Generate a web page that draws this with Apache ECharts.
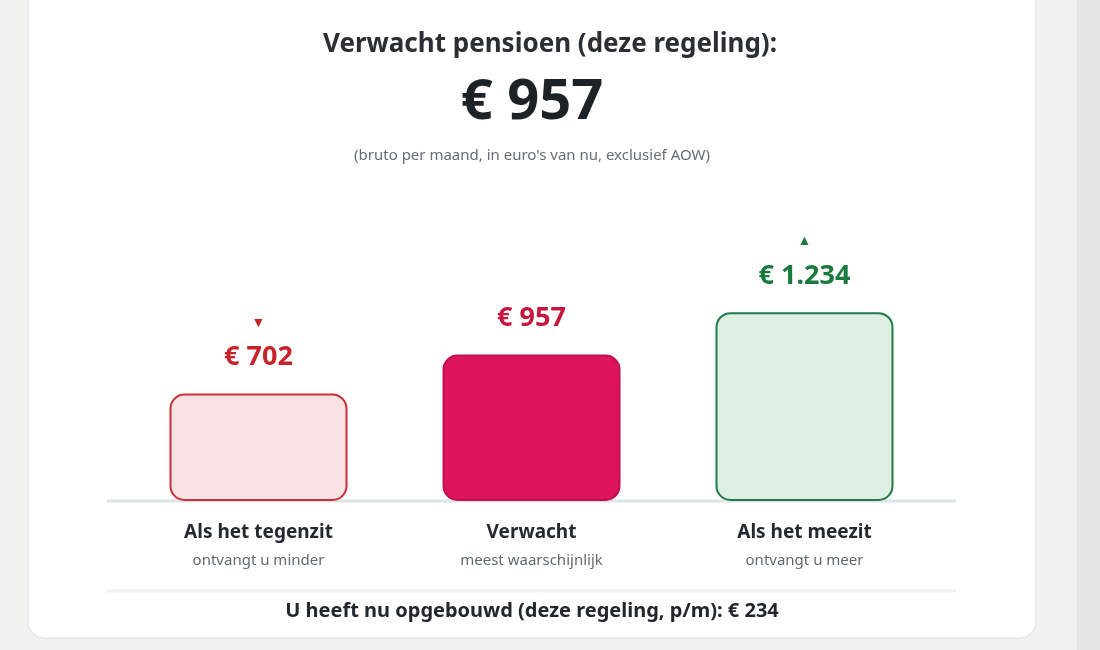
<!DOCTYPE html>
<html><head><meta charset="utf-8">
<script src="https://cdn.jsdelivr.net/npm/echarts@6/dist/echarts.min.js"></script>
<style>html,body{margin:0;padding:0;background:#f1f1f0}#c{width:1100px;height:650px}</style>
</head><body><div id="c"></div>
<script>
const categories = ['Als het tegenzit','Verwacht','Als het meezit'];
const subtitles = ['ontvangt u minder','meest waarschijnlijk','ontvangt u meer'];
const values = [702, 957, 1234];
const valueLabels = ['€ 702','€ 957','€ 1.234'];
const arrows = ['▼','','▲'];
const F = '"Noto Sans", "Open Sans", sans-serif';
const styles = [
 {fill:'#f7e3e4', border:'#cc3036', text:'#c8232c'},
 {fill:'#dd1459', border:'#c01050', text:'#c8173f'},
 {fill:'#dcefe2', border:'#1f7a45', text:'#1a7a3e'}
];
const chart = echarts.init(document.getElementById('c'));
chart.setOption({
 animation:false,
 textStyle:{fontFamily:F},
 graphic:[
  {type:'rect',z:-10,shape:{x:1077,y:0,width:23,height:650},style:{fill:'#e5e5e3'}},
  {type:'rect',z:-9,shape:{x:28,y:-20,width:1008,height:658,r:16},style:{fill:'#fff',stroke:'#dcdcdc',lineWidth:1}},
  {type:'text',left:'center',x:0,style:{text:'Verwacht pensioen (deze regeling):',font:'bold 26px '+F,fill:'#2b2f33',x:532,y:45,align:'center',verticalAlign:'middle'}},
  {type:'text',style:{text:'€ 957',font:'bold 56px '+F,fill:'#1d2226',x:532,y:103,align:'center',verticalAlign:'middle'}},
  {type:'text',style:{text:"(bruto per maand, in euro's van nu, exclusief AOW)",font:'15px '+F,fill:'#666d73',x:532,y:156,align:'center',verticalAlign:'middle'}},
  {type:'line',z:-1,shape:{x1:107,y1:501,x2:956,y2:501},style:{stroke:'#dde4e8',lineWidth:3}},
  {type:'line',shape:{x1:107,y1:591,x2:956,y2:591},style:{stroke:'#eef2f4',lineWidth:3}},
  {type:'text',style:{text:'U heeft nu opgebouwd (deze regeling, p/m): € 234',font:'bold 20px '+F,fill:'#22272b',x:532,y:611,align:'center',verticalAlign:'middle'}}
 ],
 grid:{left:122,right:159,top:195,bottom:149},
 xAxis:{type:'category',data:categories,axisLine:{show:false},axisTick:{show:false},
  axisLabel:{margin:18,interval:0,formatter:(v,i)=>'{a|'+v+'}\n{b|'+subtitles[i]+'}',
   rich:{a:{fontSize:19,fontWeight:'bold',color:'#23292e',lineHeight:28,fontFamily:F},b:{fontSize:15,color:'#626a70',lineHeight:28,fontFamily:F}}}},
 yAxis:{type:'value',min:0,max:2000,show:false,splitLine:{show:false}},
 series:[{type:'bar',barWidth:178,
  data:values.map((v,i)=>({value:v,itemStyle:{color:styles[i].fill,borderColor:styles[i].border,borderWidth:2,borderRadius:14},
   label:{show:true,position:'top',distance:20,
    formatter:()=>(arrows[i]?'{t|'+arrows[i]+'}\n':'')+'{v|'+valueLabels[i]+'}',
    rich:{t:{fontSize:14,color:styles[i].text,lineHeight:38,fontFamily:F},v:{fontSize:27,fontWeight:'bold',color:styles[i].text,lineHeight:32,fontFamily:F}}}}))
 }]
});
</script></body></html>
